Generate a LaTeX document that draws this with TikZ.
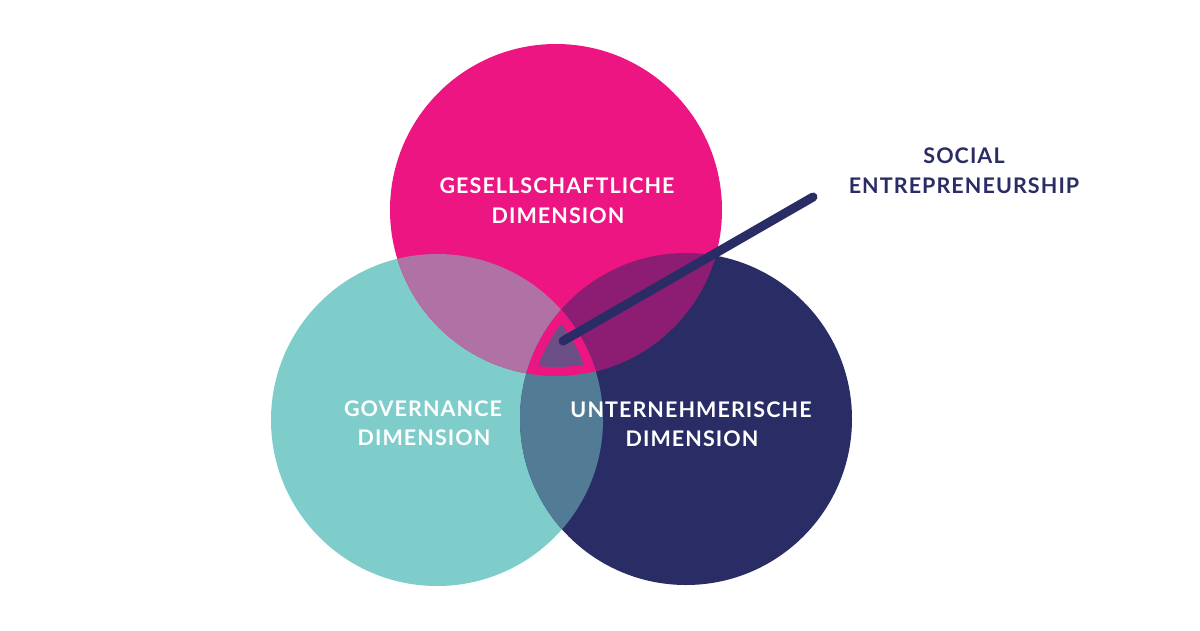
\documentclass[tikz,border=0pt]{standalone}
\usepackage{fontspec}
\setmainfont{Lato}
\newfontfamily\labelfont[LetterSpace=5]{Lato}
\definecolor{pinkc}{HTML}{EC1581}
\definecolor{tealc}{HTML}{7ECDCB}
\definecolor{navyc}{HTML}{2A2D65}
\definecolor{pinkteal}{HTML}{B072A4}
\definecolor{pinknavy}{HTML}{8C1D72}
\definecolor{tealnavy}{HTML}{527C96}
\definecolor{allthree}{HTML}{6D4F87}
\tikzset{
  dimcircle/.style={circle, inner sep=0pt, minimum size=332pt},
  lbl/.style={font=\labelfont\bfseries\fontsize{21.5}{26}\selectfont, anchor=base, inner sep=0pt},
}
\begin{document}
\begin{tikzpicture}[x=1pt,y=-1pt]
\useasboundingbox (0,0) rectangle (1200,630);
\fill[white] (0,0) rectangle (1200,630);
\def\R{166pt}
\def\Rin{157pt}
% the three dimensions
\node[dimcircle, fill=tealc] (gov) at (437,420) {};
\node[dimcircle, fill=navyc] (unt) at (686,419) {};
\node[dimcircle, fill=pinkc] (ges) at (556,210) {};
% pairwise overlaps
\begin{scope}
  \clip (gov.center) circle[radius=\R];
  \fill[pinkteal] (ges.center) circle[radius=\R];
\end{scope}
\begin{scope}
  \clip (unt.center) circle[radius=\R];
  \fill[pinknavy] (ges.center) circle[radius=\R];
\end{scope}
\begin{scope}
  \clip (gov.center) circle[radius=\R];
  \fill[tealnavy] (unt.center) circle[radius=\R];
\end{scope}
% common core with its border
\begin{scope}
  \clip (gov.center) circle[radius=\R];
  \clip (unt.center) circle[radius=\R];
  \fill[pinkc] (ges.center) circle[radius=\R];
  \clip (gov.center) circle[radius=\Rin];
  \clip (unt.center) circle[radius=\Rin];
  \fill[allthree] (ges.center) circle[radius=\Rin];
\end{scope}
% labels
\node[lbl, text=white] (ges1) at (557,193) {GESELLSCHAFTLICHE};
\node[lbl, text=white] (ges2) at (558,223) {DIMENSION};
\node[lbl, text=white] (gov1) at (423,416) {GOVERNANCE};
\node[lbl, text=white] (gov2) at (424,445) {DIMENSION};
\node[lbl, text=white] (unt1) at (691,417) {UNTERNEHMERISCHE};
\node[lbl, text=white] (unt2) at (692,446) {DIMENSION};
\node[lbl, text=navyc] (se1) at (964,163) {SOCIAL};
\node[lbl, text=navyc] (se2) at (964,193) {ENTREPRENEURSHIP};
% pointer from the core to the label
\coordinate (core) at (563,341);
\coordinate (tip) at (813,197);
\draw[navyc, line width=9pt, line cap=round] (core) -- (tip);
\end{tikzpicture}
\end{document}
